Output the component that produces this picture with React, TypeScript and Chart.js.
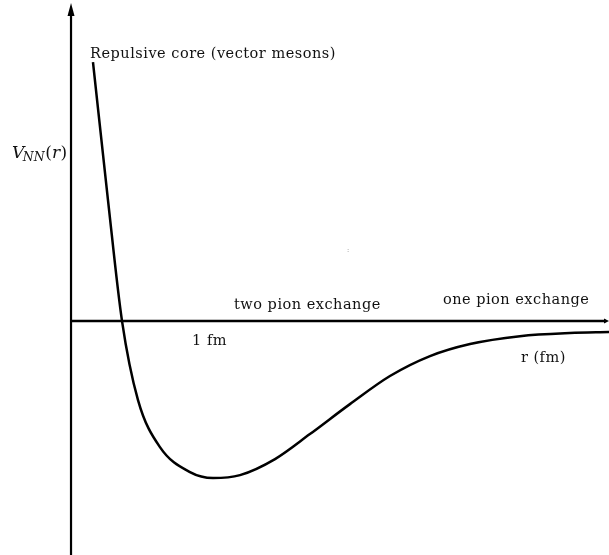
import { useEffect, useRef } from "react";
import { Chart, registerables } from "chart.js";

Chart.register(...registerables);

// Nucleon-nucleon potential V_NN(r): separation r in fm, depth in arbitrary units (well minimum = -100)
const R_FM = [
  0.158, 0.266, 0.367, 0.482, 0.64, 0.856, 1.022, 1.216, 1.468, 1.719, 2.007, 2.295, 2.583, 2.871,
  3.23, 3.59, 3.871,
];
const V_NN = [
  165.0, 77.1, 0, -50.3, -80.3, -96.2, -100.0, -98.1, -87.9, -72.0, -52.9, -35.0, -22.3, -14.6,
  -9.6, -7.6, -7.0,
];

const R_MIN = -0.511;
const R_MAX = 3.871;
const V_MIN = -149;
const V_MAX = 204.5;

const TEXT_FONT = '"DejaVu Serif", serif';
const TEXT_SIZE = 14.5;

// Annotations anchored in data coordinates (left edge, baseline)
const NOTES = [
  { text: "Repulsive core (vector mesons)", r: 0.137, v: 167.5 },
  { text: "two pion exchange", r: 1.173, v: 7.6 },
  { text: "one pion exchange", r: 2.676, v: 10.8 },
  { text: "1 fm", r: 0.871, v: -15.3 },
  { text: "r (fm)", r: 3.237, v: -26.1 },
];

const decor = {
  id: "potentialDecor",
  beforeDatasetsDraw(chart: any) {
    const { ctx, scales, chartArea } = chart;
    const x0 = scales.x.getPixelForValue(0);
    const y0 = scales.y.getPixelForValue(0);
    ctx.save();
    ctx.strokeStyle = "#000";
    ctx.fillStyle = "#000";
    ctx.lineWidth = 2.2;
    // vertical axis with arrow
    ctx.beginPath();
    ctx.moveTo(x0, chartArea.bottom);
    ctx.lineTo(x0, chartArea.top + 12);
    ctx.stroke();
    ctx.beginPath();
    ctx.moveTo(x0, chartArea.top + 3);
    ctx.lineTo(x0 - 3.5, chartArea.top + 16);
    ctx.lineTo(x0 + 3.5, chartArea.top + 16);
    ctx.closePath();
    ctx.fill();
    // horizontal axis with arrow
    ctx.lineWidth = 2.5;
    ctx.beginPath();
    ctx.moveTo(x0, y0);
    ctx.lineTo(chartArea.right - 3, y0);
    ctx.stroke();
    ctx.beginPath();
    ctx.moveTo(chartArea.right, y0);
    ctx.lineTo(chartArea.right - 5, y0 - 2.5);
    ctx.lineTo(chartArea.right - 5, y0 + 2.5);
    ctx.closePath();
    ctx.fill();
    ctx.restore();
  },
  afterDatasetsDraw(chart: any) {
    const { ctx, scales } = chart;
    const px = (r: number) => scales.x.getPixelForValue(r);
    const py = (v: number) => scales.y.getPixelForValue(v);
    ctx.save();
    ctx.fillStyle = "#111";
    ctx.textBaseline = "alphabetic";
    ctx.textAlign = "left";
    ctx.font = `${TEXT_SIZE}px ${TEXT_FONT}`;
    ctx.letterSpacing = "0.5px";
    for (const n of NOTES) ctx.fillText(n.text, px(n.r), py(n.v));
    ctx.letterSpacing = "0px";

    // V_NN(r) axis title
    let x = px(-0.424);
    const base = py(103.8);
    ctx.font = `italic 17px ${TEXT_FONT}`;
    ctx.fillText("V", x, base);
    x += ctx.measureText("V").width - 1.5;
    ctx.font = `italic 12.5px ${TEXT_FONT}`;
    ctx.fillText("NN", x, base + 2.5);
    x += ctx.measureText("NN").width + 0.5;
    ctx.font = `17px ${TEXT_FONT}`;
    ctx.fillText("(", x, base);
    x += ctx.measureText("(").width;
    ctx.font = `italic 17px ${TEXT_FONT}`;
    ctx.fillText("r", x, base);
    x += ctx.measureText("r").width + 0.5;
    ctx.font = `17px ${TEXT_FONT}`;
    ctx.fillText(")", x, base);

    // faint colon mark
    ctx.fillStyle = "#999";
    ctx.font = `8px ${TEXT_FONT}`;
    ctx.textAlign = "center";
    ctx.fillText(":", px(1.993), py(44));
    ctx.restore();
  },
};

export default function App() {
  const ref = useRef<HTMLCanvasElement | null>(null);
  useEffect(() => {
    if (!ref.current) return;
    const chart = new Chart(ref.current, {
      type: "line",
      data: {
        datasets: [
          {
            data: R_FM.map((r, i) => ({ x: r, y: V_NN[i] })),
            borderColor: "#000",
            borderWidth: 2.5,
            pointRadius: 0,
            fill: false,
            cubicInterpolationMode: "monotone",
            clip: false as any,
          },
        ],
      },
      options: {
        responsive: false,
        animation: false,
        devicePixelRatio: 1,
        layout: { padding: 0 },
        plugins: { legend: { display: false }, tooltip: { enabled: false } },
        scales: {
          x: { type: "linear", min: R_MIN, max: R_MAX, display: false },
          y: { type: "linear", min: V_MIN, max: V_MAX, display: false },
        },
      },
      plugins: [decor],
    });
    return () => chart.destroy();
  }, []);
  return (
    <div style={{ position: "absolute", left: 0, top: 0, width: 609, height: 555, background: "#fff" }}>
      <canvas ref={ref} width={609} height={555} style={{ display: "block" }} />
    </div>
  );
}
